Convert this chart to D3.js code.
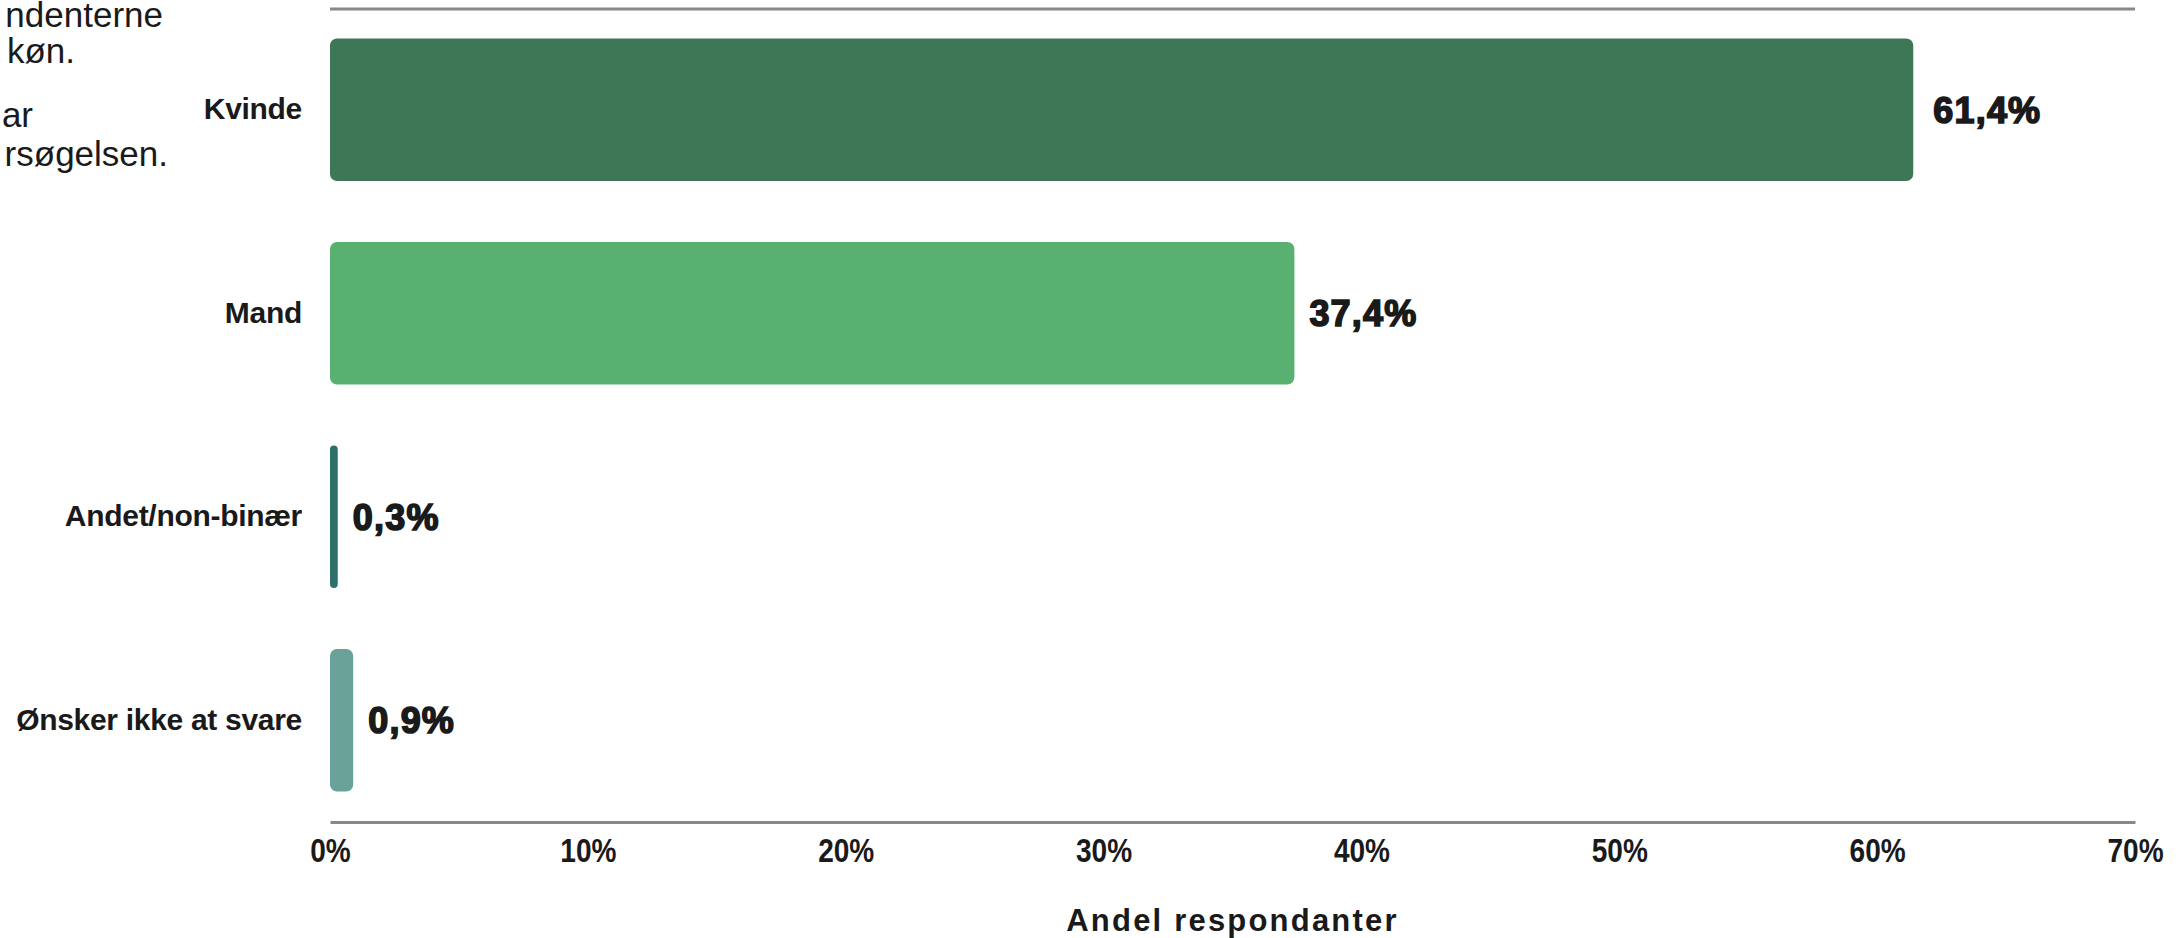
<!DOCTYPE html>
<html>
<head>
<meta charset="utf-8">
<script src="https://cdn.jsdelivr.net/npm/d3@7"></script>
<style>
  html, body { margin: 0; padding: 0; background: #ffffff; overflow: hidden; }
  svg { display: block; }
</style>
</head>
<body>
<script>
// ---- data ----
const categories = ["Kvinde", "Mand", "Andet/non-binær", "Ønsker ikke at svare"];
const values = [61.4, 37.4, 0.3, 0.9];
const valueLabels = ["61,4%", "37,4%", "0,3%", "0,9%"];
const barColors = ["#3D7756", "#58B170", "#2B7168", "#69A299"];
const tickValues = [0, 10, 20, 30, 40, 50, 60, 70];
const tickLabels = ["0%", "10%", "20%", "30%", "40%", "50%", "60%", "70%"];
const axisTitle = "Andel respondanter";
const noteLines = ["ndenterne", "køn.", "ar", "rsøgelsen."];

// ---- layout ----
const W = 2180, H = 938;
const svg = d3.select("body").append("svg").attr("width", W).attr("height", H);

const x = d3.scaleLinear().domain([0, 70]).range([330, 2135]);
const y = d3.scaleBand().domain(categories).range([8, 822]).paddingInner(0.3).paddingOuter(0.15);

const data = categories.map((c, i) => ({ cat: c, v: values[i], label: valueLabels[i], color: barColors[i] }));

// top rule
svg.append("line")
  .attr("x1", x.range()[0]).attr("x2", x.range()[1])
  .attr("y1", 9).attr("y2", 9)
  .attr("stroke", "#888").attr("stroke-width", 3);

// bars
svg.append("g").selectAll("rect").data(data).join("rect")
  .attr("x", x(0))
  .attr("y", d => y(d.cat))
  .attr("width", d => x(d.v) - x(0))
  .attr("height", y.bandwidth())
  .attr("rx", d => Math.min(7, (x(d.v) - x(0)) / 2))
  .attr("ry", d => Math.min(7, (x(d.v) - x(0)) / 2))
  .attr("fill", d => d.color);

// value labels
svg.append("g").selectAll("text").data(data).join("text")
  .attr("x", d => x(d.v) + (d.v > 50 ? 20 : 15))
  .attr("y", d => y(d.cat) + y.bandwidth() / 2)
  .attr("dy", "0.36em")
  .attr("font-family", "'Liberation Sans', Arial, sans-serif")
  .attr("font-weight", "bold")
  .attr("font-size", 36)
  .attr("letter-spacing", 1.2)
  .attr("fill", "#1a1a1a")
  .attr("stroke", "#1a1a1a")
  .attr("stroke-width", 1.6)
  .text(d => d.label);

// x axis
const xAxis = d3.axisBottom(x)
  .tickValues(tickValues)
  .tickFormat((d, i) => tickLabels[i])
  .tickSize(0)
  .tickSizeOuter(0)
  .tickPadding(17);
const gx = svg.append("g").attr("transform", "translate(0,822)").call(xAxis);
gx.select(".domain").attr("stroke", "#888").attr("stroke-width", 3);
gx.selectAll("text")
  .attr("font-family", "'Liberation Sans', Arial, sans-serif")
  .attr("font-weight", "bold")
  .attr("font-size", 33)
  .attr("transform", "scale(0.85,1)")
  .attr("fill", "#1a1a1a");

// y axis
const yAxis = d3.axisLeft(y).tickSize(0).tickPadding(28);
const gy = svg.append("g").attr("transform", `translate(${x(0)},0)`).call(yAxis);
gy.select(".domain").remove();
gy.selectAll("text")
  .attr("font-family", "'Liberation Sans', Arial, sans-serif")
  .attr("font-weight", "bold")
  .attr("font-size", 30)
  .attr("letter-spacing", -0.3)
  .attr("fill", "#1a1a1a");

// axis title
svg.append("text")
  .attr("x", (x.range()[0] + x.range()[1]) / 2)
  .attr("y", 931)
  .attr("text-anchor", "middle")
  .attr("font-family", "'Liberation Sans', Arial, sans-serif")
  .attr("font-weight", "bold")
  .attr("font-size", 31)
  .attr("letter-spacing", 2.2)
  .attr("fill", "#1a1a1a")
  .text(axisTitle);

// note text at the left edge (only its visible ends show in the source)
const noteX = [163, 75, 33, 168];
const noteY = [27, 63, 127, 166];
svg.append("g").selectAll("text").data(noteLines).join("text")
  .attr("x", (d, i) => noteX[i])
  .attr("y", (d, i) => noteY[i])
  .attr("text-anchor", "end")
  .attr("font-family", "'Liberation Sans', Arial, sans-serif")
  .attr("font-size", 35)
  .attr("fill", "#1a1a1a")
  .text(d => d);
</script>
</body>
</html>
